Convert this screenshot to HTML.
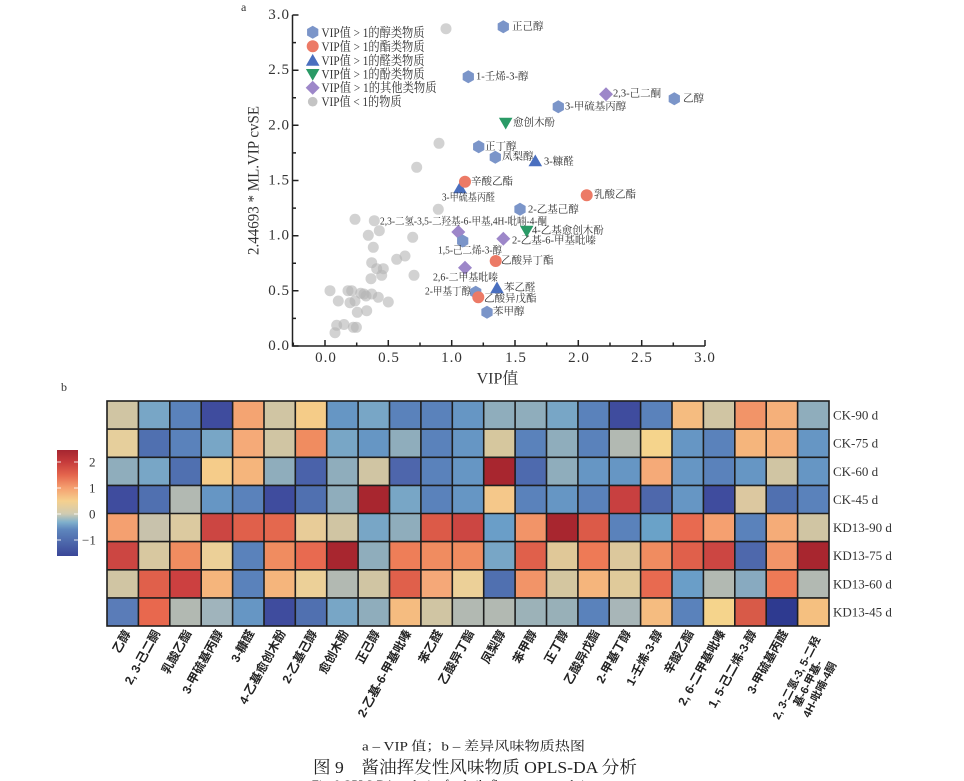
<!DOCTYPE html>
<html><head><meta charset="utf-8">
<style>
html,body{margin:0;padding:0;background:#fff;}
svg{display:block;}
.sf{font-family:"Liberation Serif","Noto Serif CJK SC",serif;}
.ss{font-family:"Liberation Sans","Noto Sans CJK SC",sans-serif;}
.lab{font-size:10.5px;fill:#333;}
.cl{font-size:12px;font-weight:bold;fill:#222;}
</style></head><body>
<svg width="964" height="781" viewBox="0 0 964 781" xmlns="http://www.w3.org/2000/svg">
<defs>
<path id="hx" d="M0,-6.5 L5.63,-3.25 L5.63,3.25 L0,6.5 L-5.63,3.25 L-5.63,-3.25Z" fill="#7b95c9"/>
<path id="tu" d="M0,-6.8 L6.8,5 L-6.8,5Z" fill="#4a6fbf"/>
<path id="td" d="M-6.8,-5 L6.8,-5 L0,6.8Z" fill="#2a9a66"/>
<path id="dm" d="M0,-7 L7,0 L0,7 L-7,0Z" fill="#9d87c9"/>
<circle id="ci" r="6" fill="#ec7a66"/>
<circle id="gy" r="5.5" fill="#b4b4b4" fill-opacity="0.6"/>
<linearGradient id="cb" x1="0" y1="0" x2="0" y2="1">
<stop offset="0" stop-color="#a52530"/>
<stop offset="0.113" stop-color="#c63b3b"/>
<stop offset="0.235" stop-color="#e4654d"/>
<stop offset="0.358" stop-color="#f5a070"/>
<stop offset="0.48" stop-color="#f5d08e"/>
<stop offset="0.603" stop-color="#cfcbb2"/>
<stop offset="0.68" stop-color="#80b0cc"/>
<stop offset="0.75" stop-color="#5e86bd"/>
<stop offset="1" stop-color="#3a4698"/>
</linearGradient>
</defs>

<!-- ===== Panel a ===== -->
<text class="sf" x="241" y="11" font-size="12" fill="#333">a</text>

<g>
<use href="#gy" x="355" y="219.3"/><use href="#gy" x="374.3" y="220.7"/><use href="#gy" x="368.3" y="235.3"/>
<use href="#gy" x="379.3" y="230.7"/><use href="#gy" x="373.3" y="247.3"/><use href="#gy" x="438.3" y="209.3"/>
<use href="#gy" x="412.7" y="237.3"/><use href="#gy" x="396.7" y="259.3"/><use href="#gy" x="405" y="256"/>
<use href="#gy" x="371.7" y="262.7"/><use href="#gy" x="376.7" y="268.7"/><use href="#gy" x="383.3" y="268.7"/>
<use href="#gy" x="381.7" y="275.3"/><use href="#gy" x="371" y="278.7"/><use href="#gy" x="414" y="275.3"/>
<use href="#gy" x="330" y="290.7"/><use href="#gy" x="348" y="290.7"/><use href="#gy" x="351.7" y="290.7"/>
<use href="#gy" x="360.7" y="293.3"/><use href="#gy" x="364" y="294"/><use href="#gy" x="371.7" y="294"/>
<use href="#gy" x="366" y="296"/><use href="#gy" x="378.3" y="297.3"/><use href="#gy" x="338.3" y="301"/>
<use href="#gy" x="350" y="302.7"/><use href="#gy" x="355" y="301"/><use href="#gy" x="388.3" y="302"/>
<use href="#gy" x="357.3" y="312.3"/><use href="#gy" x="366.7" y="310.7"/><use href="#gy" x="336.7" y="325.3"/>
<use href="#gy" x="344" y="324.5"/><use href="#gy" x="353.3" y="327.3"/><use href="#gy" x="356.4" y="327.3"/>
<use href="#gy" x="335" y="332.7"/><use href="#gy" x="446" y="28.7"/><use href="#gy" x="439" y="143.3"/>
<use href="#gy" x="416.7" y="167.3"/>
</g>

<g>
<use href="#dm" x="606" y="94.3"/><use href="#dm" x="458.3" y="232"/><use href="#dm" x="503.3" y="238.7"/><use href="#dm" x="465" y="267.7"/>
<use href="#tu" x="535.3" y="161.3"/><use href="#tu" x="460" y="188.3"/><use href="#tu" x="497" y="288.3"/>
<use href="#hx" x="503.3" y="26.7"/><use href="#hx" x="468.3" y="76.7"/><use href="#hx" x="674.3" y="98.7"/>
<use href="#hx" x="558.3" y="106.7"/><use href="#hx" x="478.7" y="146.7"/><use href="#hx" x="495.3" y="157.3"/>
<use href="#hx" x="520" y="209.3"/><use href="#hx" x="462.7" y="241"/><use href="#hx" x="475.7" y="292.3"/>
<use href="#hx" x="487" y="312.3"/>
<use href="#ci" x="465" y="181.7"/><use href="#ci" x="586.7" y="195.3"/><use href="#ci" x="495.7" y="261"/><use href="#ci" x="478.3" y="297.3"/>
<use href="#td" x="505.7" y="122.7"/><use href="#td" x="526.7" y="230.7"/>
</g>

<g class="sf lab" dominant-baseline="central">
<text x="512" y="27">正己醇</text>
<text x="476" y="77">1-壬烯-3-醇</text>
<text x="613" y="94">2,3-己二酮</text>
<text x="683" y="99">乙醇</text>
<text x="565" y="107">3-甲硫基丙醇</text>
<text x="513" y="123">愈创木酚</text>
<text x="485" y="147">正丁醇</text>
<text x="502" y="157">凤梨醇</text>
<text x="544" y="162">3-糠醛</text>
<text x="471" y="182">辛酸乙酯</text>
<text x="442" y="198" textLength="53" lengthAdjust="spacingAndGlyphs">3-甲硫基丙醛</text>
<text x="594" y="195">乳酸乙酯</text>
<text x="528" y="210">2-乙基己醇</text>
<text x="380" y="222" textLength="167" lengthAdjust="spacingAndGlyphs">2,3-二氢-3,5-二羟基-6-甲基,4H-吡喃-4-酮</text>
<text x="532" y="231">4-乙基愈创木酚</text>
<text x="512" y="241">2-乙基-6-甲基吡嗪</text>
<text x="438" y="251" textLength="64" lengthAdjust="spacingAndGlyphs">1,5-己二烯-3-醇</text>
<text x="501" y="261">乙酸异丁酯</text>
<text x="433" y="278" textLength="65" lengthAdjust="spacingAndGlyphs">2,6-二甲基吡嗪</text>
<text x="425" y="292" textLength="46" lengthAdjust="spacingAndGlyphs">2-甲基丁醇</text>
<text x="504" y="288">苯乙醛</text>
<text x="484" y="299">乙酸异戊酯</text>
<text x="493" y="312">苯甲醇</text>
</g>

<g>
<use href="#hx" x="312.7" y="32.3"/>
<use href="#ci" x="312.7" y="46.3"/>
<use href="#tu" x="312.7" y="60.7"/>
<use href="#td" x="312.7" y="74"/>
<use href="#dm" x="312.7" y="87.7"/>
<circle cx="312.7" cy="101.7" r="4.8" fill="#c4c4c4"/>
</g>
<g class="sf" font-size="13" fill="#333" dominant-baseline="central">
<text x="321.5" y="32.3" textLength="103" lengthAdjust="spacingAndGlyphs">VIP值 &gt; 1的醇类物质</text>
<text x="321.5" y="46.3" textLength="103" lengthAdjust="spacingAndGlyphs">VIP值 &gt; 1的酯类物质</text>
<text x="321.5" y="60.7" textLength="103" lengthAdjust="spacingAndGlyphs">VIP值 &gt; 1的醛类物质</text>
<text x="321.5" y="74" textLength="103" lengthAdjust="spacingAndGlyphs">VIP值 &gt; 1的酚类物质</text>
<text x="321.5" y="87.7" textLength="115" lengthAdjust="spacingAndGlyphs">VIP值 &gt; 1的其他类物质</text>
<text x="321.5" y="101.7" textLength="80" lengthAdjust="spacingAndGlyphs">VIP值 &lt; 1的物质</text>
</g>

<g stroke="#222" stroke-width="1.5" fill="none">
<path d="M292.5,15 L292.5,346 L705,346"/>
<path d="M292.5,346h6M292.5,290.8h6M292.5,235.7h6M292.5,180.5h6M292.5,125.3h6M292.5,70.2h6M292.5,15h6"/>
<path d="M292.5,318.4h3.5M292.5,263.2h3.5M292.5,208.1h3.5M292.5,152.9h3.5M292.5,97.8h3.5M292.5,42.6h3.5"/>
<path d="M325,346v-6M388.3,346v-6M451.7,346v-6M515,346v-6M578.3,346v-6M641.7,346v-6M705,346v-6"/>
<path d="M293.3,346v-3.5M356.7,346v-3.5M420,346v-3.5M483.3,346v-3.5M546.7,346v-3.5M610,346v-3.5M673.3,346v-3.5"/>
</g>
<g class="sf" font-size="15" fill="#333" text-anchor="end" dominant-baseline="central" letter-spacing="1">
<text x="290" y="346">0.0</text>
<text x="290" y="290.8">0.5</text>
<text x="290" y="235.7">1.0</text>
<text x="290" y="180.5">1.5</text>
<text x="290" y="125.3">2.0</text>
<text x="290" y="70.2">2.5</text>
<text x="290" y="15">3.0</text>
</g>
<g class="sf" font-size="15" fill="#333" text-anchor="middle" dominant-baseline="central" letter-spacing="1">
<text x="326" y="358">0.0</text>
<text x="389" y="358">0.5</text>
<text x="452" y="358">1.0</text>
<text x="516" y="358">1.5</text>
<text x="579" y="358">2.0</text>
<text x="642" y="358">2.5</text>
<text x="705" y="358">3.0</text>
</g>
<text class="sf" x="497.5" y="379" font-size="16" fill="#333" text-anchor="middle" dominant-baseline="central">VIP值</text>
<text class="sf" transform="translate(254,180.5) rotate(-90)" font-size="16" fill="#333" text-anchor="middle" dominant-baseline="central" textLength="149" lengthAdjust="spacingAndGlyphs">2.44693 * ML.VIP cvSE</text>

<!-- ===== Panel b ===== -->
<text class="sf" x="61" y="391" font-size="12" fill="#333">b</text>

<rect x="57" y="450" width="21" height="106" fill="url(#cb)"/>
<g stroke="#fff" stroke-width="1" opacity="0.85">
<path d="M57,462h4M74,462h4M57,488h4M74,488h4M57,514h4M74,514h4M57,540h4M74,540h4"/>
</g>
<g class="sf" font-size="13" fill="#333" dominant-baseline="central">
<text x="89" y="462">2</text>
<text x="89" y="488">1</text>
<text x="89" y="514">0</text>
<text x="82" y="540">−1</text>
</g>

<g shape-rendering="crispEdges">
<g transform="translate(0,401)">
<rect x="107" width="31.6" height="28.3" fill="#d0c5a3"/><rect x="138.4" width="31.6" height="28.3" fill="#78a6c6"/><rect x="169.8" width="31.6" height="28.3" fill="#5a82bb"/><rect x="201.2" width="31.6" height="28.3" fill="#3f4c9e"/><rect x="232.6" width="31.6" height="28.3" fill="#f4a472"/><rect x="264" width="31.6" height="28.3" fill="#d0c5a3"/><rect x="295.3" width="31.6" height="28.3" fill="#f5cc88"/><rect x="326.7" width="31.6" height="28.3" fill="#6696c4"/><rect x="358.1" width="31.6" height="28.3" fill="#78a6c6"/><rect x="389.5" width="31.6" height="28.3" fill="#5a82bb"/><rect x="420.9" width="31.6" height="28.3" fill="#5a82bb"/><rect x="452.3" width="31.6" height="28.3" fill="#6696c4"/><rect x="483.7" width="31.6" height="28.3" fill="#8fadbc"/><rect x="515.1" width="31.6" height="28.3" fill="#8fadbc"/><rect x="546.5" width="31.6" height="28.3" fill="#78a6c6"/><rect x="577.9" width="31.6" height="28.3" fill="#5a82bb"/><rect x="609.2" width="31.6" height="28.3" fill="#3f4c9e"/><rect x="640.6" width="31.6" height="28.3" fill="#5a82bb"/><rect x="672" width="31.6" height="28.3" fill="#f5bc80"/><rect x="703.4" width="31.6" height="28.3" fill="#d0c5a3"/><rect x="734.8" width="31.6" height="28.3" fill="#f29468"/><rect x="766.2" width="31.6" height="28.3" fill="#f5b07a"/><rect x="797.6" width="31.4" height="28.3" fill="#8fadbc"/>
</g>
<g transform="translate(0,429.1)">
<rect x="107" width="31.6" height="28.3" fill="#e6cf9c"/><rect x="138.4" width="31.6" height="28.3" fill="#5070b0"/><rect x="169.8" width="31.6" height="28.3" fill="#5a82bb"/><rect x="201.2" width="31.6" height="28.3" fill="#78a6c6"/><rect x="232.6" width="31.6" height="28.3" fill="#f5aa78"/><rect x="264" width="31.6" height="28.3" fill="#d0c5a3"/><rect x="295.3" width="31.6" height="28.3" fill="#f08c60"/><rect x="326.7" width="31.6" height="28.3" fill="#78a6c6"/><rect x="358.1" width="31.6" height="28.3" fill="#6696c4"/><rect x="389.5" width="31.6" height="28.3" fill="#8fadbc"/><rect x="420.9" width="31.6" height="28.3" fill="#5a82bb"/><rect x="452.3" width="31.6" height="28.3" fill="#6696c4"/><rect x="483.7" width="31.6" height="28.3" fill="#d6c79e"/><rect x="515.1" width="31.6" height="28.3" fill="#5a82bb"/><rect x="546.5" width="31.6" height="28.3" fill="#8fadbc"/><rect x="577.9" width="31.6" height="28.3" fill="#5a82bb"/><rect x="609.2" width="31.6" height="28.3" fill="#b2b9b2"/><rect x="640.6" width="31.6" height="28.3" fill="#f5d48c"/><rect x="672" width="31.6" height="28.3" fill="#6696c4"/><rect x="703.4" width="31.6" height="28.3" fill="#5a82bb"/><rect x="734.8" width="31.6" height="28.3" fill="#f5b57c"/><rect x="766.2" width="31.6" height="28.3" fill="#f5b07a"/><rect x="797.6" width="31.4" height="28.3" fill="#6696c4"/>
</g>
<g transform="translate(0,457.3)">
<rect x="107" width="31.6" height="28.3" fill="#8fadbc"/><rect x="138.4" width="31.6" height="28.3" fill="#78a6c6"/><rect x="169.8" width="31.6" height="28.3" fill="#5070b0"/><rect x="201.2" width="31.6" height="28.3" fill="#f5cc8a"/><rect x="232.6" width="31.6" height="28.3" fill="#f5b57c"/><rect x="264" width="31.6" height="28.3" fill="#8fadbc"/><rect x="295.3" width="31.6" height="28.3" fill="#4a62aa"/><rect x="326.7" width="31.6" height="28.3" fill="#8fadbc"/><rect x="358.1" width="31.6" height="28.3" fill="#d0c5a3"/><rect x="389.5" width="31.6" height="28.3" fill="#4e66ac"/><rect x="420.9" width="31.6" height="28.3" fill="#5a82bb"/><rect x="452.3" width="31.6" height="28.3" fill="#6696c4"/><rect x="483.7" width="31.6" height="28.3" fill="#a8262f"/><rect x="515.1" width="31.6" height="28.3" fill="#4e6aae"/><rect x="546.5" width="31.6" height="28.3" fill="#8fadbc"/><rect x="577.9" width="31.6" height="28.3" fill="#6696c4"/><rect x="609.2" width="31.6" height="28.3" fill="#6696c4"/><rect x="640.6" width="31.6" height="28.3" fill="#f5aa78"/><rect x="672" width="31.6" height="28.3" fill="#6696c4"/><rect x="703.4" width="31.6" height="28.3" fill="#5a82bb"/><rect x="734.8" width="31.6" height="28.3" fill="#6696c4"/><rect x="766.2" width="31.6" height="28.3" fill="#d0c5a3"/><rect x="797.6" width="31.4" height="28.3" fill="#6696c4"/>
</g>
<g transform="translate(0,485.4)">
<rect x="107" width="31.6" height="28.3" fill="#3f4c9e"/><rect x="138.4" width="31.6" height="28.3" fill="#5070b0"/><rect x="169.8" width="31.6" height="28.3" fill="#b2b9b2"/><rect x="201.2" width="31.6" height="28.3" fill="#6696c4"/><rect x="232.6" width="31.6" height="28.3" fill="#5a82bb"/><rect x="264" width="31.6" height="28.3" fill="#3f4c9e"/><rect x="295.3" width="31.6" height="28.3" fill="#5070b0"/><rect x="326.7" width="31.6" height="28.3" fill="#8fadbc"/><rect x="358.1" width="31.6" height="28.3" fill="#a8262f"/><rect x="389.5" width="31.6" height="28.3" fill="#78a6c6"/><rect x="420.9" width="31.6" height="28.3" fill="#5a82bb"/><rect x="452.3" width="31.6" height="28.3" fill="#6696c4"/><rect x="483.7" width="31.6" height="28.3" fill="#f5c88a"/><rect x="515.1" width="31.6" height="28.3" fill="#5a82bb"/><rect x="546.5" width="31.6" height="28.3" fill="#6696c4"/><rect x="577.9" width="31.6" height="28.3" fill="#5a82bb"/><rect x="609.2" width="31.6" height="28.3" fill="#c84040"/><rect x="640.6" width="31.6" height="28.3" fill="#4e68ac"/><rect x="672" width="31.6" height="28.3" fill="#6696c4"/><rect x="703.4" width="31.6" height="28.3" fill="#3f4c9e"/><rect x="734.8" width="31.6" height="28.3" fill="#dcc8a0"/><rect x="766.2" width="31.6" height="28.3" fill="#5070b0"/><rect x="797.6" width="31.4" height="28.3" fill="#5a82bb"/>
</g>
<g transform="translate(0,513.5)">
<rect x="107" width="31.6" height="28.3" fill="#f4a070"/><rect x="138.4" width="31.6" height="28.3" fill="#c8c2ac"/><rect x="169.8" width="31.6" height="28.3" fill="#dccaa0"/><rect x="201.2" width="31.6" height="28.3" fill="#cc4642"/><rect x="232.6" width="31.6" height="28.3" fill="#e0604b"/><rect x="264" width="31.6" height="28.3" fill="#e4684e"/><rect x="295.3" width="31.6" height="28.3" fill="#e8cc98"/><rect x="326.7" width="31.6" height="28.3" fill="#d0c5a3"/><rect x="358.1" width="31.6" height="28.3" fill="#78a6c6"/><rect x="389.5" width="31.6" height="28.3" fill="#8fadbc"/><rect x="420.9" width="31.6" height="28.3" fill="#dc5a48"/><rect x="452.3" width="31.6" height="28.3" fill="#cc4642"/><rect x="483.7" width="31.6" height="28.3" fill="#6a9ec8"/><rect x="515.1" width="31.6" height="28.3" fill="#f29468"/><rect x="546.5" width="31.6" height="28.3" fill="#a8262f"/><rect x="577.9" width="31.6" height="28.3" fill="#dc5a48"/><rect x="609.2" width="31.6" height="28.3" fill="#5a82bb"/><rect x="640.6" width="31.6" height="28.3" fill="#6aa2c8"/><rect x="672" width="31.6" height="28.3" fill="#e86a50"/><rect x="703.4" width="31.6" height="28.3" fill="#f5a070"/><rect x="734.8" width="31.6" height="28.3" fill="#5a82bb"/><rect x="766.2" width="31.6" height="28.3" fill="#f5ac78"/><rect x="797.6" width="31.4" height="28.3" fill="#d0c5a3"/>
</g>
<g transform="translate(0,541.6)">
<rect x="107" width="31.6" height="28.3" fill="#cc4642"/><rect x="138.4" width="31.6" height="28.3" fill="#d8c8a0"/><rect x="169.8" width="31.6" height="28.3" fill="#f08c60"/><rect x="201.2" width="31.6" height="28.3" fill="#ecd098"/><rect x="232.6" width="31.6" height="28.3" fill="#5a82bb"/><rect x="264" width="31.6" height="28.3" fill="#f08c60"/><rect x="295.3" width="31.6" height="28.3" fill="#e86a50"/><rect x="326.7" width="31.6" height="28.3" fill="#a8262f"/><rect x="358.1" width="31.6" height="28.3" fill="#8fadbc"/><rect x="389.5" width="31.6" height="28.3" fill="#ee7e58"/><rect x="420.9" width="31.6" height="28.3" fill="#f08c60"/><rect x="452.3" width="31.6" height="28.3" fill="#f08c60"/><rect x="483.7" width="31.6" height="28.3" fill="#78a6c6"/><rect x="515.1" width="31.6" height="28.3" fill="#e0604b"/><rect x="546.5" width="31.6" height="28.3" fill="#e0c898"/><rect x="577.9" width="31.6" height="28.3" fill="#ee7a56"/><rect x="609.2" width="31.6" height="28.3" fill="#dcc89c"/><rect x="640.6" width="31.6" height="28.3" fill="#f08c60"/><rect x="672" width="31.6" height="28.3" fill="#e0604b"/><rect x="703.4" width="31.6" height="28.3" fill="#cc4642"/><rect x="734.8" width="31.6" height="28.3" fill="#4e68ac"/><rect x="766.2" width="31.6" height="28.3" fill="#f29468"/><rect x="797.6" width="31.4" height="28.3" fill="#a8262f"/>
</g>
<g transform="translate(0,569.8)">
<rect x="107" width="31.6" height="28.3" fill="#d0c5a3"/><rect x="138.4" width="31.6" height="28.3" fill="#e0604b"/><rect x="169.8" width="31.6" height="28.3" fill="#cc4040"/><rect x="201.2" width="31.6" height="28.3" fill="#f5b57c"/><rect x="232.6" width="31.6" height="28.3" fill="#5a82bb"/><rect x="264" width="31.6" height="28.3" fill="#f5b57c"/><rect x="295.3" width="31.6" height="28.3" fill="#ecd098"/><rect x="326.7" width="31.6" height="28.3" fill="#b2b9b2"/><rect x="358.1" width="31.6" height="28.3" fill="#d0c5a3"/><rect x="389.5" width="31.6" height="28.3" fill="#e0604b"/><rect x="420.9" width="31.6" height="28.3" fill="#f5a878"/><rect x="452.3" width="31.6" height="28.3" fill="#ecd098"/><rect x="483.7" width="31.6" height="28.3" fill="#5070b0"/><rect x="515.1" width="31.6" height="28.3" fill="#f29468"/><rect x="546.5" width="31.6" height="28.3" fill="#d4c6a0"/><rect x="577.9" width="31.6" height="28.3" fill="#f5b57c"/><rect x="609.2" width="31.6" height="28.3" fill="#e0ca9a"/><rect x="640.6" width="31.6" height="28.3" fill="#e86a50"/><rect x="672" width="31.6" height="28.3" fill="#6a9ec8"/><rect x="703.4" width="31.6" height="28.3" fill="#b2b9b2"/><rect x="734.8" width="31.6" height="28.3" fill="#88aac0"/><rect x="766.2" width="31.6" height="28.3" fill="#ee7a56"/><rect x="797.6" width="31.4" height="28.3" fill="#b2b9b2"/>
</g>
<g transform="translate(0,597.9)">
<rect x="107" width="31.6" height="28.1" fill="#5a7cb8"/><rect x="138.4" width="31.6" height="28.1" fill="#e8684e"/><rect x="169.8" width="31.6" height="28.1" fill="#b2b9b2"/><rect x="201.2" width="31.6" height="28.1" fill="#a0b4bc"/><rect x="232.6" width="31.6" height="28.1" fill="#6696c4"/><rect x="264" width="31.6" height="28.1" fill="#3f4c9e"/><rect x="295.3" width="31.6" height="28.1" fill="#5070b0"/><rect x="326.7" width="31.6" height="28.1" fill="#78a6c6"/><rect x="358.1" width="31.6" height="28.1" fill="#8fadbc"/><rect x="389.5" width="31.6" height="28.1" fill="#f5bc80"/><rect x="420.9" width="31.6" height="28.1" fill="#d0c5a3"/><rect x="452.3" width="31.6" height="28.1" fill="#b2b9b2"/><rect x="483.7" width="31.6" height="28.1" fill="#b2b9b2"/><rect x="515.1" width="31.6" height="28.1" fill="#9cb2b8"/><rect x="546.5" width="31.6" height="28.1" fill="#98b0b8"/><rect x="577.9" width="31.6" height="28.1" fill="#5a82bb"/><rect x="609.2" width="31.6" height="28.1" fill="#a8b6b8"/><rect x="640.6" width="31.6" height="28.1" fill="#f5bc80"/><rect x="672" width="31.6" height="28.1" fill="#5a82bb"/><rect x="703.4" width="31.6" height="28.1" fill="#f5d48c"/><rect x="734.8" width="31.6" height="28.1" fill="#d85a48"/><rect x="766.2" width="31.6" height="28.1" fill="#2e3a90"/><rect x="797.6" width="31.4" height="28.1" fill="#f5c080"/>
</g>
</g>
<g stroke="#1e1e1e" stroke-width="1.6" fill="none">
<rect x="107" y="401" width="722" height="225"/>
<path d="M107,429.1H829M107,457.3H829M107,485.4H829M107,513.5H829M107,541.6H829M107,569.8H829M107,597.9H829"/>
<path d="M138.4,401V626M169.8,401V626M201.2,401V626M232.6,401V626M264,401V626M295.3,401V626M326.7,401V626M358.1,401V626M389.5,401V626M420.9,401V626M452.3,401V626M483.7,401V626M515.1,401V626M546.5,401V626M577.9,401V626M609.2,401V626M640.6,401V626M672,401V626M703.4,401V626M734.8,401V626M766.2,401V626M797.6,401V626"/>
</g>

<g class="sf" font-size="13" fill="#333" dominant-baseline="central">
<text x="833" y="415">CK-90 d</text>
<text x="833" y="443.2">CK-75 d</text>
<text x="833" y="471.3">CK-60 d</text>
<text x="833" y="499.4">CK-45 d</text>
<text x="833" y="527.6">KD13-90 d</text>
<text x="833" y="555.7">KD13-75 d</text>
<text x="833" y="583.8">KD13-60 d</text>
<text x="833" y="612">KD13-45 d</text>
</g>

<g class="ss cl" text-anchor="end" dominant-baseline="central">
<text transform="translate(127.5,631) rotate(-61)">乙醇</text>
<text transform="translate(157,631) rotate(-61)">2, 3-己二酮</text>
<text transform="translate(188.4,631) rotate(-61)">乳酸乙酯</text>
<text transform="translate(219.8,631) rotate(-61)">3-甲硫基丙醇</text>
<text transform="translate(251.2,631) rotate(-61)">3-糠醛</text>
<text transform="translate(282.6,631) rotate(-61)">4-乙基愈创木酚</text>
<text transform="translate(314,631) rotate(-61)">2-乙基己醇</text>
<text transform="translate(345.4,631) rotate(-61)">愈创木酚</text>
<text transform="translate(376.7,631) rotate(-61)">正己醇</text>
<text transform="translate(408.1,631) rotate(-61)">2-乙基-6-甲基吡嗪</text>
<text transform="translate(439.5,631) rotate(-61)">苯乙醛</text>
<text transform="translate(470.9,631) rotate(-61)">乙酸异丁酯</text>
<text transform="translate(502.3,631) rotate(-61)">凤梨醇</text>
<text transform="translate(533.7,631) rotate(-61)">苯甲醇</text>
<text transform="translate(565.1,631) rotate(-61)">正丁醇</text>
<text transform="translate(596.5,631) rotate(-61)">乙酸异戊酯</text>
<text transform="translate(627.9,631) rotate(-61)">2-甲基丁醇</text>
<text transform="translate(659.3,631) rotate(-61)">1-壬烯-3-醇</text>
<text transform="translate(690.7,631) rotate(-61)">辛酸乙酯</text>
<text transform="translate(722.1,631) rotate(-61)">2, 6-二甲基吡嗪</text>
<text transform="translate(753.4,631) rotate(-61)">1, 5-己二烯-3-醇</text>
<text transform="translate(784.8,631) rotate(-61)">3-甲硫基丙醛</text>
</g>
<g class="ss" font-size="11" font-weight="bold" fill="#222" text-anchor="middle" dominant-baseline="central">
<text transform="translate(797,678) rotate(-63)">2, 3-二氢-3, 5-二羟</text>
<text transform="translate(808.6,684) rotate(-63)">基-6-甲基-</text>
<text transform="translate(820.2,690) rotate(-63)">4H-吡喃-4酮</text>
</g>

<text class="sf" x="473.5" y="746" font-size="13" fill="#222" text-anchor="middle" dominant-baseline="central" textLength="223" lengthAdjust="spacingAndGlyphs">a – VIP 值；b – 差异风味物质热图</text>
<text class="sf" x="475" y="767.5" font-size="17" fill="#222" text-anchor="middle" dominant-baseline="central" textLength="324" lengthAdjust="spacingAndGlyphs">图 9　酱油挥发性风味物质 OPLS-DA 分析</text>
<text class="sf" x="476" y="790" font-size="15" fill="#222" text-anchor="middle" textLength="328" lengthAdjust="spacingAndGlyphs">Fig. 9  OPLS-DA analysis of volatile flavor compounds in soy sauce</text>
</svg>
</body></html>
